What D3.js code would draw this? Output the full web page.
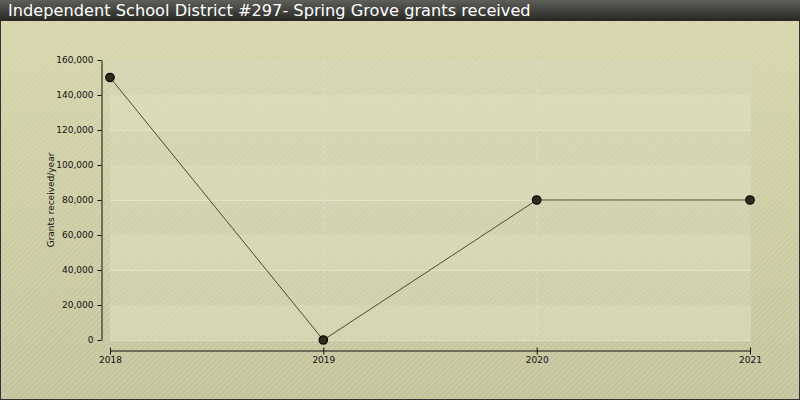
<!DOCTYPE html>
<html><head><meta charset="utf-8">
<script src="https://cdn.jsdelivr.net/npm/d3@7"></script>
<style>html,body{margin:0;padding:0;background:#fff;}svg{display:block;}</style>
</head><body>
<svg id="chart" width="800" height="400"></svg>
<script>
const title = "Independent School District #297- Spring Grove grants received";
const yTitle = "Grants received/year";
const years = ["2018", "2019", "2020", "2021"];
const grants = [150000, 0, 80000, 80000];
const yTicks = [0, 20000, 40000, 60000, 80000, 100000, 120000, 140000, 160000];

const svg = d3.select("#chart");
const W = 800, H = 400;
const defs = svg.append("defs");

const bg = defs.append("linearGradient").attr("id","bg").attr("x1",0).attr("y1",0).attr("x2",0).attr("y2",1);
bg.append("stop").attr("offset","0%").attr("stop-color","#d6d6b4");
bg.append("stop").attr("offset","100%").attr("stop-color","#c2c2a2");

const tb = defs.append("linearGradient").attr("id","tb").attr("x1",0).attr("y1",0).attr("x2",0).attr("y2",1);
tb.append("stop").attr("offset","0%").attr("stop-color","#5e5e5a");
tb.append("stop").attr("offset","100%").attr("stop-color","#262624");

const pat = defs.append("pattern").attr("id","stripes").attr("patternUnits","userSpaceOnUse")
  .attr("width",4).attr("height",4).attr("patternTransform","rotate(45)");
pat.append("rect").attr("width",2).attr("height",4).attr("fill","#ecec9a").attr("opacity",0.22);

svg.append("rect").attr("x",0).attr("y",0).attr("width",W).attr("height",H).attr("fill","url(#bg)");

const x = d3.scalePoint().domain(years).range([110, 750]);
const y = d3.scaleLinear().domain([0,160000]).range([340, 60]);

// bands
const bands = svg.append("g");
for (let i = 0; i < yTicks.length-1; i++) {
  bands.append("rect").attr("x",110).attr("width",641)
    .attr("y", y(yTicks[i+1])).attr("height", y(yTicks[i]) - y(yTicks[i+1]))
    .attr("fill", i % 2 === 0 ? "#e2e2cc" : "#d4d4c0").attr("opacity",0.45);
}
// horizontal grid lines
bands.selectAll("line.h").data(yTicks.filter((d,i)=>i%2===0 && d < 160000)).join("line")
  .attr("x1",110).attr("x2",751).attr("y1",d=>y(d)+0.5).attr("y2",d=>y(d)+0.5)
  .attr("stroke","#e6e6d8").attr("stroke-width",1.2).attr("opacity",0.8);
// vertical dashed grid lines
bands.selectAll("line.v").data(years.slice(1,3)).join("line")
  .attr("x1",d=>x(d)+0.5).attr("x2",d=>x(d)+0.5).attr("y1",60).attr("y2",340)
  .attr("stroke","#dcdcd8").attr("stroke-dasharray","4,3").attr("opacity",0.9);

svg.append("rect").attr("x",0).attr("y",0).attr("width",W).attr("height",H).attr("fill","url(#stripes)");
svg.append("rect").attr("x",0.5).attr("y",0.5).attr("width",W-1).attr("height",H-1).attr("fill","none").attr("stroke","#333").attr("stroke-width",1);

svg.append("rect").attr("x",0).attr("y",0).attr("width",W).attr("height",21).attr("fill","url(#tb)");
svg.append("text").attr("x",8).attr("y",16).attr("fill","#fff")
  .attr("font-family","DejaVu Sans, Verdana, sans-serif").attr("font-size",16.2).text(title);

// y axis
const yAxis = svg.append("g").attr("transform","translate(101.5,0)")
  .call(d3.axisLeft(y).tickValues(yTicks).tickSize(4).tickSizeOuter(0).tickFormat(d3.format(",")));
yAxis.select(".domain").attr("stroke","#111");
yAxis.selectAll(".tick line").attr("stroke","#111");
yAxis.selectAll("text").attr("font-family","DejaVu Sans, Verdana, sans-serif").attr("font-size",9).attr("fill","#111").attr("dx",-1);

// x axis
const xAxis = svg.append("g").attr("transform","translate(0,350.5)")
  .call(d3.axisBottom(x).tickSize(4).tickSizeOuter(0));
xAxis.select(".domain").attr("stroke","#111");
xAxis.selectAll(".tick line").attr("stroke","#111").attr("y1",-3).attr("y2",4);
xAxis.selectAll("text").attr("font-family","DejaVu Sans, Verdana, sans-serif").attr("font-size",9).attr("fill","#111").attr("dy","0.6em");

svg.append("text").attr("transform","translate(54,200) rotate(-90)").attr("text-anchor","middle")
  .attr("font-family","DejaVu Sans, Verdana, sans-serif").attr("font-size",9).attr("fill","#111").text(yTitle);

const data = years.map((yr,i)=>({yr, v: grants[i]}));
svg.append("path").datum(data)
  .attr("d", d3.line().x(d=>x(d.yr)).y(d=>y(d.v)))
  .attr("fill","none").attr("stroke","#4a4a32").attr("stroke-width",1);
svg.selectAll("circle.pt").data(data).join("circle")
  .attr("cx",d=>x(d.yr)).attr("cy",d=>y(d.v)).attr("r",4.2)
  .attr("fill","#2e2e1e").attr("stroke","#0a0a06").attr("stroke-width",1.3);
</script>
</body></html>
